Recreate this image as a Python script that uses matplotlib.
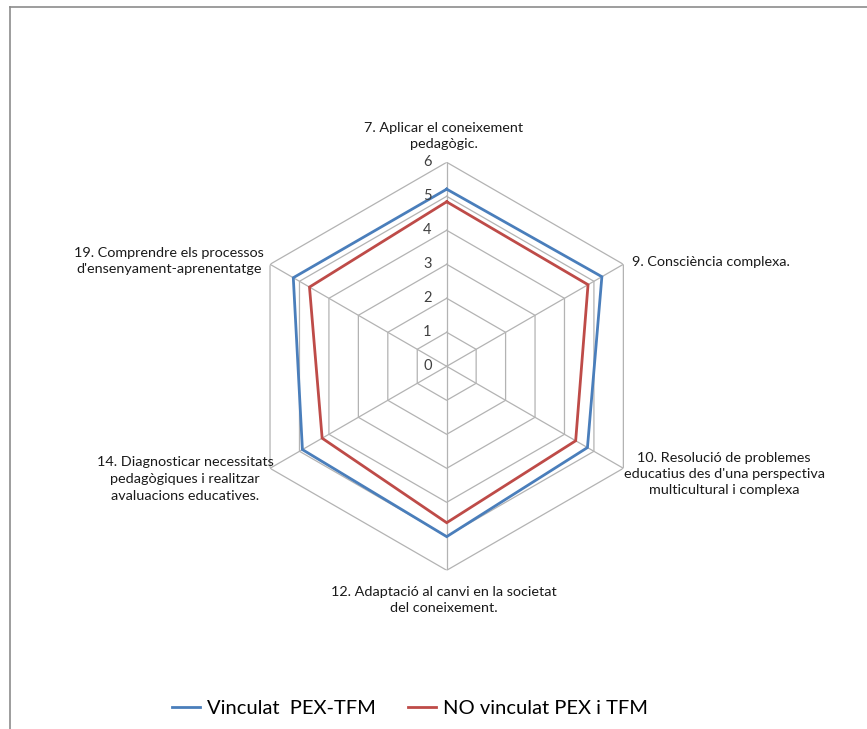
import numpy as np
import matplotlib.pyplot as plt
from matplotlib.lines import Line2D

plt.rcParams['font.family'] = ['Lato', 'DejaVu Sans']

# competències (en sentit horari des de dalt)
categories = [
    "7. Aplicar el coneixement\npedagògic.",
    "9. Consciència complexa.",
    "10. Resolució de problemes\neducatius des d'una perspectiva\nmulticultural i complexa",
    "12. Adaptació al canvi en la societat\ndel coneixement.",
    "14. Diagnosticar necessitats\npedagògiques i realitzar\navaluacions educatives.",
    "19. Comprendre els processos\nd'ensenyament-aprenentatge",
]
vinculat = [5.21, 5.27, 4.78, 5.01, 4.90, 5.21]
no_vinculat = [4.84, 4.80, 4.38, 4.60, 4.23, 4.66]
series_names = ["Vinculat  PEX-TFM", "NO vinculat PEX i TFM"]
levels = [0, 1, 2, 3, 4, 5, 6]

blue = '#4a7ebb'
red = '#be4b48'
grid_c = '#b3b3b3'

W, H = 867, 729
fig = plt.figure(figsize=(W / 100, H / 100), dpi=100)

cx, cy, R = 446.7, 366.3, 204
ax = fig.add_axes([(cx - R) / W, (H - cy - R) / H, 2 * R / W, 2 * R / H],
                  projection='polar')
ax.set_theta_zero_location('N')
ax.set_theta_direction(-1)
ax.set_ylim(0, 6)
ax.axis('off')

n = len(categories)
theta = np.linspace(0, 2 * np.pi, n, endpoint=False)
closed = np.append(theta, theta[0])

# graella hexagonal i radis
for lv in levels[1:]:
    ax.plot(closed, [lv] * (n + 1), color=grid_c, lw=0.9, zorder=1)
for t in theta:
    ax.plot([t, t], [0, 6], color=grid_c, lw=0.9, zorder=1)

ax.plot(closed, vinculat + vinculat[:1], color=blue, lw=2.0, zorder=3,
        solid_joinstyle='miter')
ax.plot(closed, no_vinculat + no_vinculat[:1], color=red, lw=2.0, zorder=3,
        solid_joinstyle='miter')

# valors de l'eix
for lv in levels:
    ax.annotate(str(lv), xy=(0, lv), xytext=(-14, 0), textcoords='offset points',
                ha='center', va='center', fontsize=10.5, color='#404040')

# etiquetes de les categories
label_pos = [(444, 136, 'center'), (632, 262, 'left'), (724, 474, 'center'),
             (444, 600, 'center'), (185, 479, 'center'), (169, 261, 'center')]
for txt, (x, y, ha) in zip(categories, label_pos):
    fig.text(x / W, 1 - y / H, txt, ha=ha, va='center', fontsize=10.4,
             multialignment='center', linespacing=1.45, color='#1a1a1a')

# marc del gràfic
fig.add_artist(Line2D([9.5 / W, 9.5 / W], [0, 1 - 7 / H], transform=fig.transFigure,
                      color='#8c8c8c', lw=1.2))
fig.add_artist(Line2D([9.5 / W, 1], [1 - 7 / H, 1 - 7 / H], transform=fig.transFigure,
                      color='#8c8c8c', lw=1.2))

handles = [Line2D([], [], color=blue, lw=2.0), Line2D([], [], color=red, lw=2.0)]
fig.legend(handles, series_names, loc='center', bbox_to_anchor=(410 / W, 1 - 708 / H),
           ncol=2, frameon=False, fontsize=14.5, handlelength=1.4, handletextpad=0.35,
           columnspacing=1.6)

fig.savefig('out.png', dpi=100, facecolor='white')
